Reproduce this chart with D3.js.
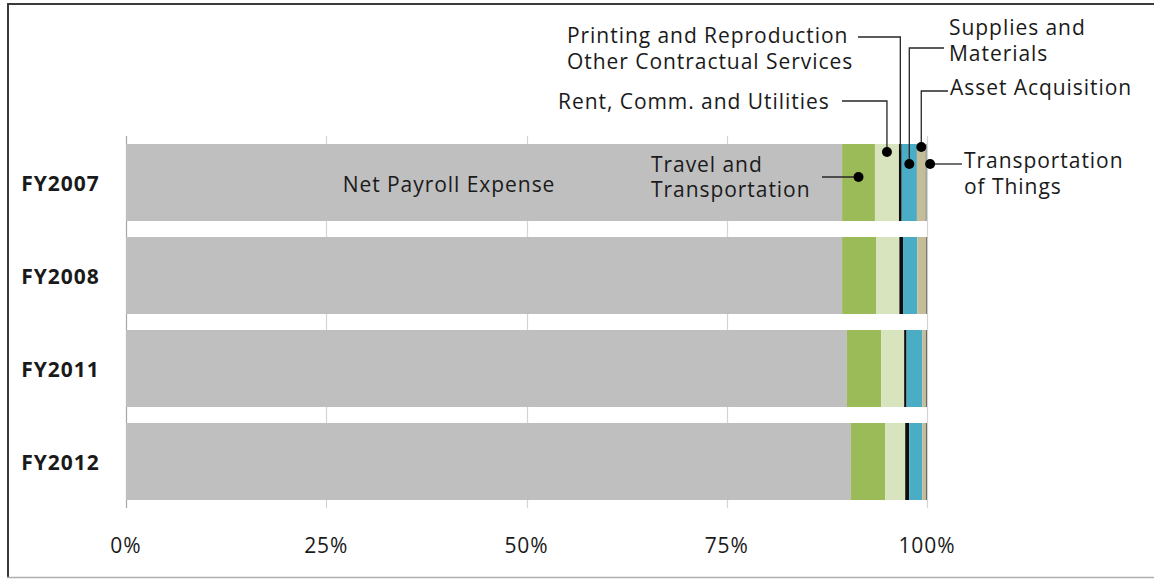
<!DOCTYPE html>
<html>
<head>
<meta charset="utf-8">
<script src="https://cdn.jsdelivr.net/npm/d3@7"></script>
<style>
  html, body { margin: 0; padding: 0; background: #fff; }
  svg { display: block; font-family: "Open Sans", Lato, sans-serif; }
  text { letter-spacing: 0.95px; }
</style>
</head>
<body>
<svg id="chart" width="1154" height="580"></svg>
<script>
// ---- data (percent of total) ----
const categories = ["FY2007", "FY2008", "FY2011", "FY2012"];
const seriesNames = [
  "Net Payroll Expense",
  "Travel and Transportation",
  "Rent, Comm. and Utilities",
  "Printing and Reproduction",
  "Supplies and Materials",
  "Asset Acquisition",
  "Transportation of Things"
];
const netPayroll      = [89.4, 89.4, 90.0, 90.5];
const travel          = [4.1, 4.24, 4.28, 4.28];
const rentComm        = [3.0, 2.91, 2.87, 2.50];
const printing        = [0.34, 0.46, 0.30, 0.50];
const supplies        = [1.90, 1.79, 1.95, 1.62];
const assetAcq        = [1.09, 1.09, 0.46, 0.46];
const transportThings = [0.12, 0.12, 0.14, 0.14];
const tickValues = [0, 25, 50, 75, 100];
const tickLabels = ["0%", "25%", "50%", "75%", "100%"];

const seriesValues = [netPayroll, travel, rentComm, printing, supplies, assetAcq, transportThings];
const colors = ["#bfbfbf", "#9bbb59", "#d7e4bd", "#0d0d0d", "#4bacc6", "#c4bd97", "#6b6b6b"];

// ---- layout ----
const svg = d3.select("#chart");
const x = d3.scaleLinear().domain([0, 100]).range([126, 927]);
const y = d3.scaleBand().domain(categories).range([136, 508])
  .paddingInner(0.172).paddingOuter(0.086);
const FS = 21;

// frame
svg.append("rect").attr("x", 0).attr("y", 0).attr("width", 1154).attr("height", 580).attr("fill", "#fff");
svg.append("line").attr("x1", 7).attr("x2", 1154).attr("y1", 4).attr("y2", 4).attr("stroke", "#3a3a3a").attr("stroke-width", 2);
svg.append("line").attr("x1", 8).attr("x2", 8).attr("y1", 4).attr("y2", 578).attr("stroke", "#3a3a3a").attr("stroke-width", 2);
svg.append("line").attr("x1", 7).attr("x2", 1154).attr("y1", 577.5).attr("y2", 577.5).attr("stroke", "#b0b0b0").attr("stroke-width", 1.5);

// gridlines
svg.append("g").selectAll("line").data(tickValues).join("line")
  .attr("x1", d => Math.round(x(d)) + 0.5).attr("x2", d => Math.round(x(d)) + 0.5)
  .attr("y1", y.range()[0]).attr("y2", y.range()[1])
  .attr("stroke", d => d === 0 ? "#a6a6a6" : "#d4d4d4").attr("stroke-width", 1.2);

// stacked data
const rows = categories.map((c, i) => {
  const r = { cat: c };
  seriesNames.forEach((s, j) => r[s] = seriesValues[j][i]);
  return r;
});
const stack = d3.stack().keys(seriesNames)(rows);

svg.append("g").selectAll("g").data(stack).join("g")
  .attr("fill", (d, i) => colors[i])
  .selectAll("rect").data(d => d).join("rect")
  .attr("x", d => x(d[0]))
  .attr("width", d => Math.max(0, x(d[1]) - x(d[0])))
  .attr("y", d => y(d.data.cat))
  .attr("height", y.bandwidth());

// category labels
svg.append("g").selectAll("text").data(categories).join("text")
  .attr("x", 60.5).attr("y", d => y(d) + y.bandwidth() / 2)
  .attr("text-anchor", "middle").attr("dominant-baseline", "central")
  .attr("font-weight", "bold").attr("font-size", FS).attr("fill", "#1a1a1a")
  .text(d => d);

// tick labels
svg.append("g").selectAll("text").data(tickValues).join("text")
  .attr("x", d => x(d)).attr("y", 545)
  .attr("text-anchor", "middle").attr("dominant-baseline", "central")
  .attr("font-size", FS).attr("fill", "#1a1a1a")
  .text((d, i) => tickLabels[i]);

// ---- data labels for FY2007 bar ----
const first = stack.map(s => s[0]);
const mid = k => x((first[k][0] + first[k][1]) / 2);
const top0 = y(categories[0]);
const lc = "#262626";
const ann = svg.append("g");
function txt(lines, tx, ty, anchor) {
  const t = ann.append("text").attr("x", tx).attr("y", ty)
    .attr("text-anchor", anchor || "start").attr("dominant-baseline", "central")
    .attr("font-size", FS).attr("fill", "#1a1a1a");
  lines.forEach((l, i) => t.append("tspan").attr("x", tx).attr("dy", i === 0 ? 0 : 25.5).text(l));
}
function path(pts) {
  ann.append("path").attr("d", d3.line()(pts)).attr("fill", "none").attr("stroke", lc).attr("stroke-width", 1.3);
}
function dot(cx, cy) {
  ann.append("circle").attr("cx", cx).attr("cy", cy).attr("r", 5).attr("fill", "#000");
}

// Net Payroll Expense (inside bar)
txt([seriesNames[0]], 449, top0 + 40, "middle");

// Travel and Transportation
txt(["Travel and", "Transportation"], 651, top0 + 20);
path([[822, top0 + 33], [mid(1), top0 + 33]]);
dot(mid(1), top0 + 33);

// Rent, Comm. and Utilities
txt([seriesNames[2]], 558, 101);
path([[842, 101], [mid(2), 101], [mid(2), top0 + 8]]);
dot(mid(2), top0 + 8);

// Printing and Reproduction / Other Contractual Services
txt(["Printing and Reproduction", "Other Contractual Services"], 567, 35);
path([[858, 37], [mid(3), 37], [mid(3), top0 + 6]]);

// Supplies and Materials
txt(["Supplies and", "Materials"], 949, 27);
path([[944, 48], [mid(4), 48], [mid(4), top0 + 20]]);
dot(mid(4), top0 + 20);

// Asset Acquisition
txt([seriesNames[5]], 950, 87);
path([[948, 91], [mid(5), 91], [mid(5), top0 + 3]]);
dot(mid(5), top0 + 3);

// Transportation of Things
txt(["Transportation", "of Things"], 964, 160);
path([[mid(6) + 4, top0 + 20], [962, top0 + 20]]);
dot(mid(6) + 4, top0 + 20);
</script>
</body>
</html>
